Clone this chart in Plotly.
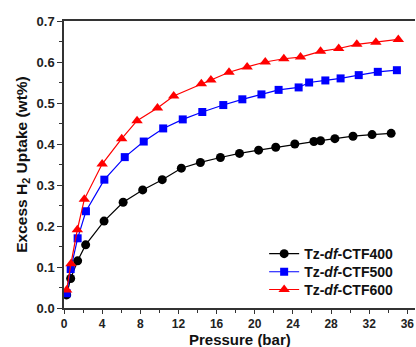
import plotly.graph_objects as go

# Excess H2 uptake isotherms (wt%) vs pressure (bar)
p_400 = [0.28, 0.7, 1.43, 2.27, 4.2, 6.2, 8.25, 10.3, 12.3, 14.3, 16.4, 18.4, 20.4,
         22.2, 24.2, 26.2, 26.9, 28.4, 30.3, 32.3, 34.3]
u_400 = [0.032, 0.072, 0.115, 0.154, 0.212, 0.258, 0.288, 0.313, 0.341, 0.355, 0.367,
         0.377, 0.385, 0.392, 0.400, 0.406, 0.408, 0.413, 0.419, 0.423, 0.426]

p_500 = [0.28, 0.7, 1.43, 2.3, 4.23, 6.37, 8.36, 10.4, 12.45, 14.5, 16.7, 18.7, 20.7,
         22.5, 24.6, 25.7, 27.4, 29.0, 30.9, 32.9, 34.9]
u_500 = [0.036, 0.095, 0.170, 0.236, 0.313, 0.368, 0.406, 0.438, 0.460, 0.478, 0.495,
         0.509, 0.521, 0.532, 0.538, 0.550, 0.555, 0.560, 0.568, 0.576, 0.580]

p_600 = [0.28, 0.73, 1.4, 2.13, 4.0, 6.05, 7.66, 9.8, 11.5, 14.4, 15.4, 17.3, 19.2,
         21.1, 23.05, 24.8, 26.9, 28.8, 30.7, 32.7, 35.05]
u_600 = [0.044, 0.108, 0.191, 0.265, 0.351, 0.413, 0.457, 0.488, 0.517, 0.547, 0.556,
         0.575, 0.588, 0.600, 0.608, 0.612, 0.626, 0.633, 0.643, 0.648, 0.655]

# name, x, y, colour, marker, marker size, legend id, legend row position (paper y)
series = [
    ("<b>Tz-<i>df</i>-CTF400</b>", p_400, u_400, "#000000", "circle", 9, "legend", 0.188),
    ("<b>Tz-<i>df</i>-CTF500</b>", p_500, u_500, "#0000FF", "square", 8, "legend2", 0.125),
    ("<b>Tz-<i>df</i>-CTF600</b>", p_600, u_600, "#FF0000", "triangle-up", 10, "legend3", 0.063),
]

FONT = "Arial, Liberation Sans, Helvetica, sans-serif"

fig = go.Figure()
legend_layout = {}
for name, x, y, color, sym, size, leg, ly in series:
    fig.add_trace(go.Scatter(
        x=x, y=y, name=name, mode="lines+markers", legend=leg,
        line=dict(color=color, width=1.2),
        marker=dict(symbol=sym, size=size, color=color, line=dict(width=0)),
    ))
    legend_layout[leg] = dict(
        x=0.952, y=ly, xanchor="right", yanchor="middle",
        bgcolor="rgba(0,0,0,0)", borderwidth=0,
        font=dict(family=FONT, size=14, color="#111111"),
        itemwidth=30,
    )

axis_common = dict(
    showline=True, linecolor="#333333", linewidth=1.5,
    ticks="outside", tickwidth=1.2, tickcolor="#333333",
    showgrid=False, zeroline=False,
)

fig.update_xaxes(
    **axis_common, ticklen=4,
    tickfont=dict(family=FONT, size=12, color="#222222", weight="bold"),
    range=[0, 36.8], tick0=0, dtick=4, mirror=True,
    minor=dict(ticks="outside", ticklen=3, tickwidth=1, tickcolor="#333333", dtick=2),
)
fig.update_yaxes(
    **axis_common, ticklen=5,
    tickfont=dict(family=FONT, size=13, color="#222222", weight="bold"),
    range=[0, 0.7], tick0=0, dtick=0.1, tickformat=".1f",
    minor=dict(ticks="outside", ticklen=3, tickwidth=1, tickcolor="#333333", dtick=0.05),
    title=dict(text="Excess H<sub>2</sub> Uptake (wt%)", standoff=5,
               font=dict(family=FONT, size=15.5, color="#111111", weight="bold")),
)

# x-axis title placed just below the tick labels
fig.add_annotation(
    text="<b>Pressure (bar)</b>", xref="paper", yref="paper",
    x=0.5, y=-0.073, xanchor="center", yanchor="top", showarrow=False,
    font=dict(family=FONT, size=15, color="#111111"),
)

fig.update_layout(
    width=416, height=347,
    margin=dict(l=64, r=1, t=21, b=39),
    plot_bgcolor="white", paper_bgcolor="white",
    showlegend=True,
    **legend_layout,
)

fig.write_html("out.html")
